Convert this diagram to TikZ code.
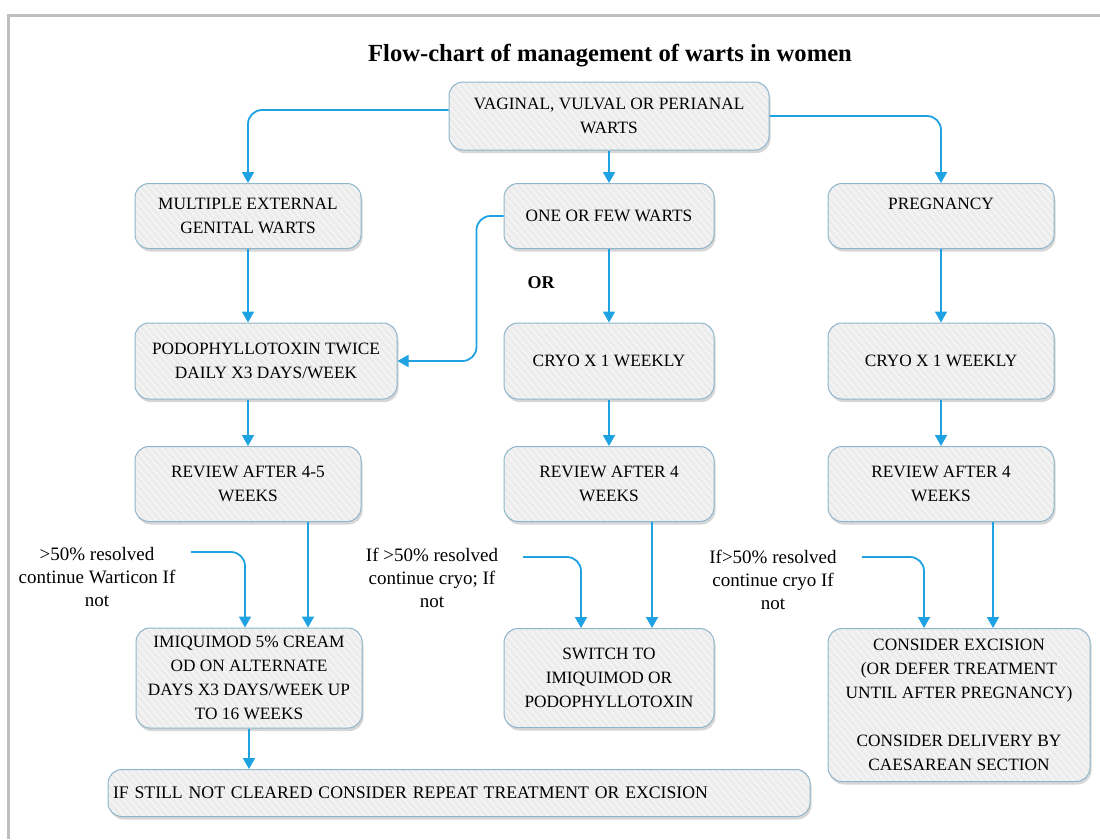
\documentclass[tikz,border=0pt]{standalone}
\usepackage{fontspec}
\setmainfont{Liberation Serif}
\usetikzlibrary{arrows.meta,shadows,patterns.meta,calc}
\definecolor{arrowblue}{HTML}{1FA2E1}
\definecolor{boxborder}{HTML}{8FB5CC}
\definecolor{boxfill}{HTML}{ECECEC}
\definecolor{stripe}{HTML}{F6F6F6}
\definecolor{framegray}{HTML}{BFBFBF}
\newcommand{\boxfnt}{\fontsize{17.3}{24}\selectfont}
\newcommand{\lblfnt}{\fontsize{19}{23}\selectfont}
\tikzset{
  box/.style={rounded corners=14pt,
    drop shadow={shadow xshift=1.5pt, shadow yshift=-3pt, fill=black, opacity=0.16},
    preaction={fill=boxfill},
    preaction={pattern={Lines[angle=-50,distance=5pt,line width=1.4pt]}, pattern color=stripe},
    draw=boxborder, line width=1pt,
    align=center, font=\boxfnt, inner sep=3pt},
  lbl/.style={align=center, font=\lblfnt, inner sep=0pt},
  arr/.style={draw=arrowblue, line width=1.8pt, rounded corners=14pt,
    -{Triangle[width=12pt,length=11pt]}},
}
\begin{document}
\begin{tikzpicture}[x=1pt,y=-1pt]
\useasboundingbox (0,0) rectangle (1100,839);
\draw[framegray, line width=3pt] (8,839) -- (8,15) -- (1100,15);

\node[font=\bfseries\fontsize{24.6}{28}\selectfont] (title) at (610,56) {Flow-chart of management of warts in women};

\node[box, minimum width=320pt, minimum height=68pt] (top) at (609,116) {VAGINAL, VULVAL OR PERIANAL\\WARTS};
\node[box, minimum width=226pt, minimum height=65pt] (mult) at (248,216) {MULTIPLE EXTERNAL\\GENITAL WARTS};
\node[box, minimum width=210pt, minimum height=65pt] (one) at (609,216) {ONE OR FEW WARTS};
\node[box, minimum width=226pt, minimum height=65pt] (preg) at (941,216) {PREGNANCY\\\mbox{}};
\node[box, minimum width=262pt, minimum height=76pt] (podo) at (266,361) {PODOPHYLLOTOXIN TWICE\\DAILY X3 DAYS/WEEK};
\node[box, minimum width=210pt, minimum height=76pt] (cryoa) at (609,361) {CRYO X 1 WEEKLY};
\node[box, minimum width=226pt, minimum height=76pt] (cryob) at (941,361) {CRYO X 1 WEEKLY};
\node[box, minimum width=226pt, minimum height=75pt] (reva) at (248,484) {REVIEW AFTER 4-5\\WEEKS};
\node[box, minimum width=210pt, minimum height=75pt] (revb) at (609,484) {REVIEW AFTER 4\\WEEKS};
\node[box, minimum width=226pt, minimum height=75pt] (revc) at (941,484) {REVIEW AFTER 4\\WEEKS};
\node[box, minimum width=226pt, minimum height=100pt] (imi) at (249,678) {IMIQUIMOD 5\% CREAM\\OD ON ALTERNATE\\DAYS X3 DAYS/WEEK UP\\TO 16 WEEKS};
\node[box, minimum width=210pt, minimum height=99pt] (switch) at (609,678) {SWITCH TO\\IMIQUIMOD OR\\PODOPHYLLOTOXIN};
\node[box, minimum width=262pt, minimum height=153pt] (exc) at (959,705) {CONSIDER EXCISION\\(OR DEFER TREATMENT\\UNTIL AFTER PREGNANCY)\\[24pt]CONSIDER DELIVERY BY\\CAESAREAN SECTION};
\node[box, minimum width=702pt, minimum height=47pt, text width=692pt, align=left, inner xsep=5pt, font=\fontsize{17.7}{24}\selectfont] (still) at (459,793) {IF STILL NOT CLEARED CONSIDER REPEAT TREATMENT OR EXCISION};

\node[font=\bfseries\fontsize{18}{20}\selectfont] (or) at (541,283) {OR};

\node[lbl] (la) at (97,577) {>50\% resolved\\continue Warticon If\\not};
\node[lbl] (lb) at (432,578) {If >50\% resolved\\continue cryo; If\\not};
\node[lbl] (lc) at (773,580) {If>50\% resolved\\continue cryo If\\not};
\coordinate (ca) at (191,552);
\coordinate (cb) at (523,557);
\coordinate (cc) at (862,557);

\draw[arr] ([yshift=6pt]top.west) -| (mult.north);
\draw[arr] (top.south) -- (one.north);
\draw[arr] (top.east) -| (preg.north);
\draw[arr] (one.west) -- ++(-27,0) |- (podo.east);
\draw[arr] (mult.south) -- (mult.south |- podo.north);
\draw[arr] (one.south) -- (cryoa.north);
\draw[arr] (preg.south) -- (cryob.north);
\draw[arr] (mult.south |- podo.south) -- (reva.north);
\draw[arr] (cryoa.south) -- (revb.north);
\draw[arr] (cryob.south) -- (revc.north);
\draw[arr] ([xshift=60pt]reva.south) -- ([xshift=60pt]reva.south |- imi.north);
\draw[arr] (ca) -| ([xshift=-4pt]imi.north);
\draw[arr] ([xshift=43pt]revb.south) -- ([xshift=43pt]revb.south |- switch.north);
\draw[arr] (cb) -| ([xshift=-28pt]switch.north);
\draw[arr] ([xshift=52pt]revc.south) -- ([xshift=52pt]revc.south |- exc.north);
\draw[arr] (cc) -| ([xshift=-35pt]exc.north);
\draw[arr] (imi.south) -- (imi.south |- still.north);
\end{tikzpicture}
\end{document}
